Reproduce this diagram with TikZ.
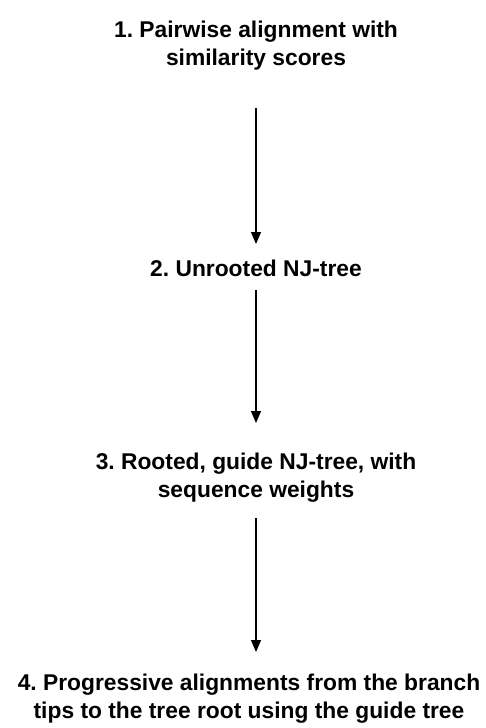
\documentclass[tikz,border=0pt]{standalone}
\usepackage{fontspec}
\setmainfont{Liberation Sans}
\usetikzlibrary{arrows.meta}
\begin{document}
\frenchspacing
\begin{tikzpicture}[x=1pt,y=-1pt,
  lbl/.style={align=center,font=\fontsize{22.8}{27.5}\selectfont\bfseries,inner sep=0pt},
  arr/.style={line width=1.3pt,-{Triangle[width=10pt,length=12pt]}}]
\useasboundingbox (0,0) rectangle (485,728);
\node[lbl,anchor=base] (n1) at (256,65) {1. Pairwise alignment with\\similarity scores};
\node[lbl,anchor=base] (n2) at (256,276) {2. Unrooted NJ-tree};
\node[lbl,anchor=base] (n3) at (256,497) {3. Rooted, guide NJ-tree, with\\sequence weights};
\node[lbl,anchor=base] (n4) at (249,718) {4. Progressive alignments from the branch\\tips to the tree root using the guide tree};
\coordinate (a1s) at (256,108); \coordinate (a1e) at (256,244);
\coordinate (a2s) at (256,290); \coordinate (a2e) at (256,423);
\coordinate (a3s) at (256,518); \coordinate (a3e) at (256,652);
\draw[arr] (a1s) -- (a1e);
\draw[arr] (a2s) -- (a2e);
\draw[arr] (a3s) -- (a3e);
\end{tikzpicture}
\end{document}
